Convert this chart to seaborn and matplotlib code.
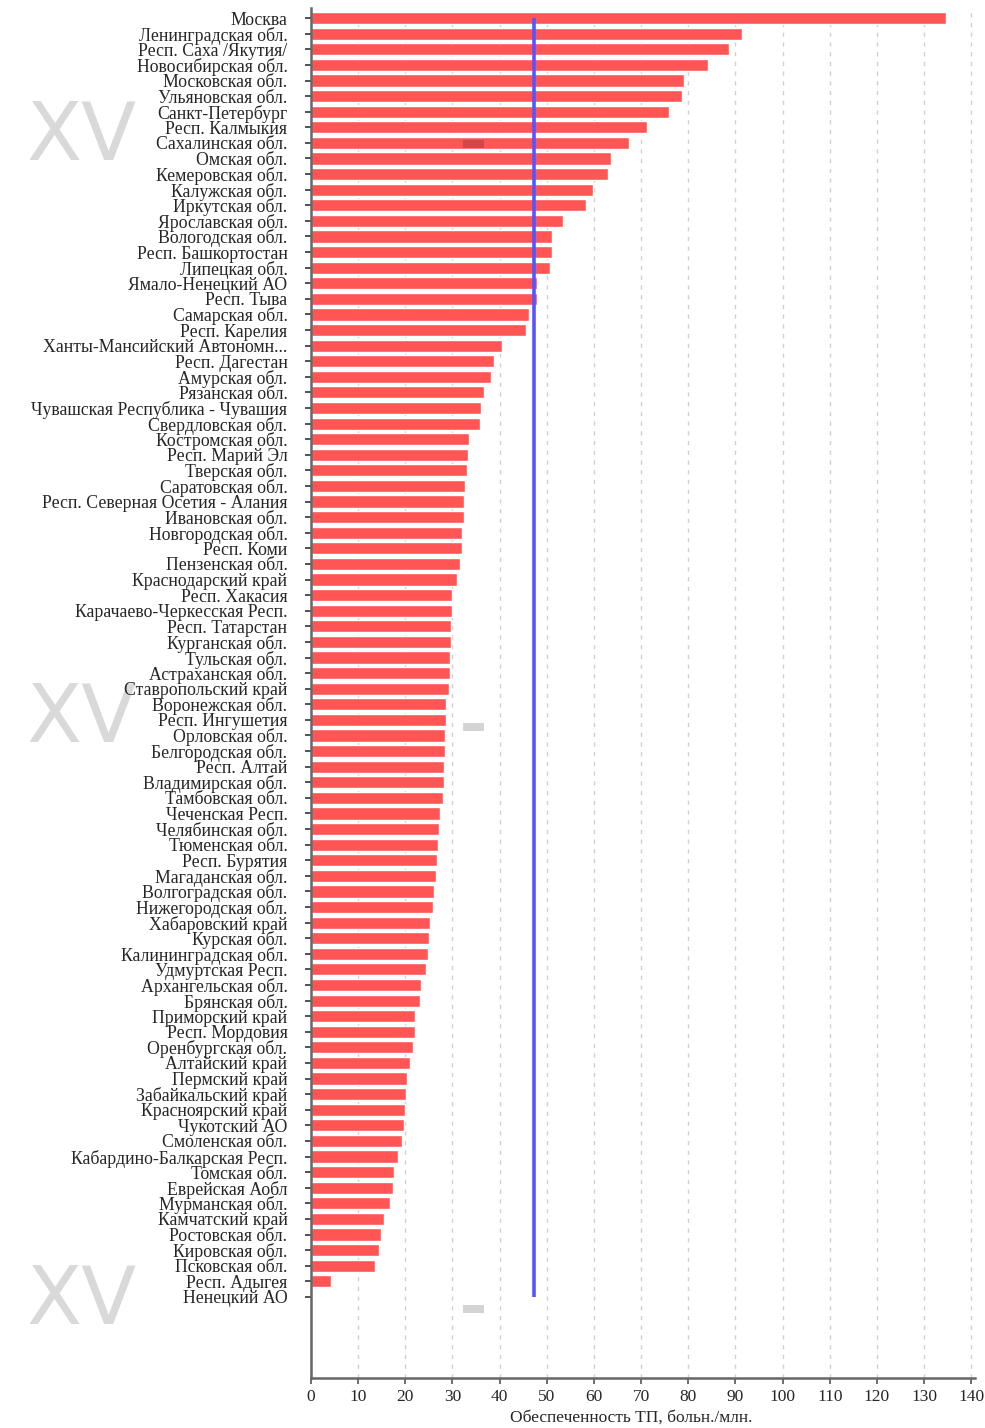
import matplotlib
matplotlib.use("Agg")
import matplotlib.pyplot as plt
import matplotlib.patches as mpatches
import seaborn as sns
import pandas as pd

regions = [
    "Москва", "Ленинградская обл.", "Респ. Саха /Якутия/", "Новосибирская обл.",
    "Московская обл.", "Ульяновская обл.", "Санкт-Петербург", "Респ. Калмыкия",
    "Сахалинская обл.", "Омская обл.", "Кемеровская обл.", "Калужская обл.",
    "Иркутская обл.", "Ярославская обл.", "Вологодская обл.", "Респ. Башкортостан",
    "Липецкая обл.", "Ямало-Ненецкий АО", "Респ. Тыва", "Самарская обл.",
    "Респ. Карелия", "Ханты-Мансийский Автономн...", "Респ. Дагестан", "Амурская обл.",
    "Рязанская обл.", "Чувашская Республика - Чувашия", "Свердловская обл.",
    "Костромская обл.", "Респ. Марий Эл", "Тверская обл.", "Саратовская обл.",
    "Респ. Северная Осетия - Алания", "Ивановская обл.", "Новгородская обл.",
    "Респ. Коми", "Пензенская обл.", "Краснодарский край", "Респ. Хакасия",
    "Карачаево-Черкесская Респ.", "Респ. Татарстан", "Курганская обл.", "Тульская обл.",
    "Астраханская обл.", "Ставропольский край", "Воронежская обл.", "Респ. Ингушетия",
    "Орловская обл.", "Белгородская обл.", "Респ. Алтай", "Владимирская обл.",
    "Тамбовская обл.", "Чеченская Респ.", "Челябинская обл.", "Тюменская обл.",
    "Респ. Бурятия", "Магаданская обл.", "Волгоградская обл.", "Нижегородская обл.",
    "Хабаровский край", "Курская обл.", "Калининградская обл.", "Удмуртская Респ.",
    "Архангельская обл.", "Брянская обл.", "Приморский край", "Респ. Мордовия",
    "Оренбургская обл.", "Алтайский край", "Пермский край", "Забайкальский край",
    "Красноярский край", "Чукотский АО", "Смоленская обл.", "Кабардино-Балкарская Респ.",
    "Томская обл.", "Еврейская Аобл", "Мурманская обл.", "Камчатский край",
    "Ростовская обл.", "Кировская обл.", "Псковская обл.", "Респ. Адыгея", "Ненецкий АО",
]

provision = [
    134.6, 91.3, 88.6, 84.1, 79.1, 78.6, 75.9, 71.3, 67.5, 63.7, 62.9, 59.9,
    58.3, 53.4, 51.0, 51.0, 50.7, 48.0, 48.0, 46.2, 45.6, 40.6, 38.7, 38.1,
    36.7, 36.1, 35.8, 33.4, 33.3, 33.1, 32.7, 32.5, 32.4, 32.0, 32.0, 31.5,
    30.9, 29.8, 29.8, 29.7, 29.6, 29.5, 29.4, 29.3, 28.7, 28.6, 28.5, 28.4,
    28.2, 28.2, 27.9, 27.4, 27.1, 27.0, 26.7, 26.5, 26.0, 25.8, 25.2, 25.0,
    24.8, 24.3, 23.4, 23.2, 22.1, 22.1, 21.7, 20.9, 20.4, 20.1, 19.9, 19.7,
    19.4, 18.5, 17.7, 17.4, 16.7, 15.5, 14.8, 14.4, 13.5, 4.3, 0.0,
]

national_average = 47.3
x_ticks = list(range(0, 141, 10))
x_title = "Обеспеченность ТП, больн./млн."

df = pd.DataFrame({"region": regions, "value": provision})

sns.set_theme(style="white")
plt.rcParams["font.family"] = ["Liberation Serif", "DejaVu Serif"]

fig = plt.figure(figsize=(9.85, 14.28), dpi=100)
ax = fig.add_axes([311 / 985, 1 - 1378 / 1428, 664 / 985, 1370 / 1428])
ax.set_zorder(1)
ax.patch.set_alpha(0)

sns.barplot(data=df, x="value", y="region", orient="h", color="#ff5555",
            saturation=1, width=0.78, ax=ax, zorder=2)

n = len(regions)
ax.vlines(national_average, 0, n - 1, color="#5555ff", linewidth=2.6, zorder=3)

ax.set_xlim(0, 140.8)
ax.set_ylim(n - 1 + 5.2, -0.65)
ax.set_xticks(x_ticks)
ax.set_xticklabels([str(t) for t in x_ticks], fontsize=12.5)
ax.set_xlabel(x_title, fontsize=12.5)
ax.xaxis.set_label_coords((631 - 311) / 664, -(1410 - 1378) / 1370)
ax.set_ylabel("")
ax.tick_params(axis="y", labelsize=12.8, length=4, width=1.2, color="#333333", pad=13, left=True)
ax.tick_params(axis="x", length=4, width=1.2, color="#555555", pad=4, bottom=True)

for t in x_ticks[1:]:
    ax.axvline(t, color="#d0d0d0", linewidth=1, linestyle=(0, (3, 4)), zorder=1)

for side in ("top", "right"):
    ax.spines[side].set_visible(False)
for side in ("left", "bottom"):
    ax.spines[side].set_color("#666666")
    ax.spines[side].set_linewidth(1.8)

# faint "XV" marks down the left margin, beneath the region names
for yc in (138, 720, 1302):
    fig.text(82 / 985, 1 - yc / 1428, "XV", fontsize=58, color="#d9d9d9",
             family="DejaVu Sans", ha="center", va="center", zorder=0)

# small grey tags
for yt in (140, 723, 1305):
    fig.patches.append(mpatches.Rectangle((463 / 985, 1 - (yt + 8) / 1428), 21 / 985, 8 / 1428,
                                          transform=fig.transFigure, facecolor="black",
                                          alpha=0.17, edgecolor="none", zorder=5))

fig.savefig("out.png", dpi=100)
